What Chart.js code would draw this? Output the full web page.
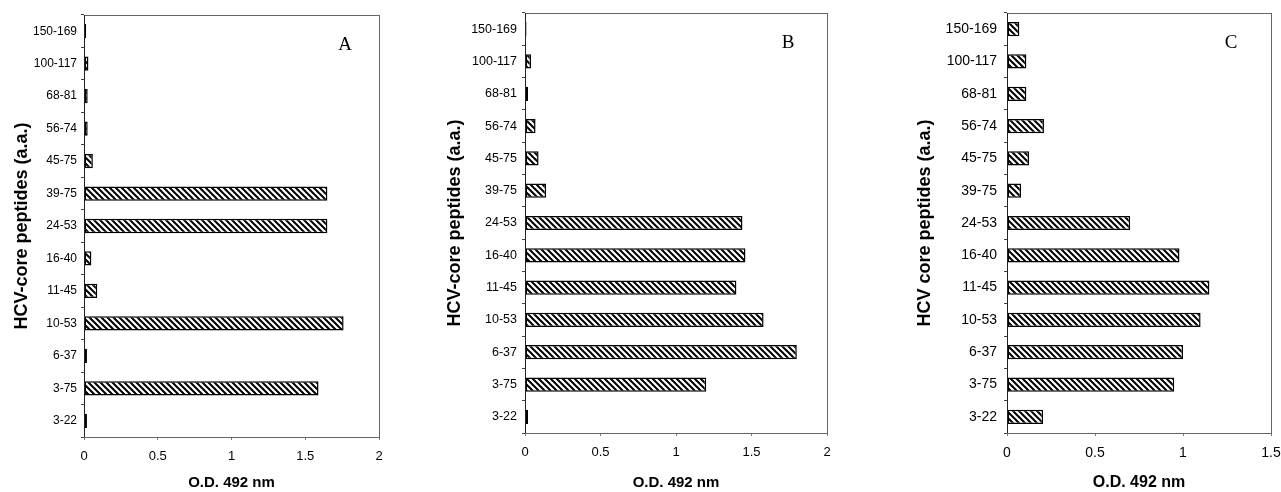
<!DOCTYPE html>
<html>
<head>
<meta charset="utf-8">
<title>HCV-core peptides O.D. 492 nm</title>
<script src="https://cdn.jsdelivr.net/npm/chart.js@4/dist/chart.umd.min.js"></script>
<style>
  html, body { margin: 0; padding: 0; background: #fff; }
  body { width: 1281px; height: 492px; position: relative; overflow: hidden; }
  .panel { position: absolute; top: 0; height: 492px; }
</style>
</head>
<body>
<div class="panel" id="wrap-a" style="left:0;width:390px"><canvas id="chart-a"></canvas></div>
<div class="panel" id="wrap-b" style="left:430px;width:410px"><canvas id="chart-b"></canvas></div>
<div class="panel" id="wrap-c" style="left:860px;width:421px"><canvas id="chart-c"></canvas></div>
<script>
// Peptides, top to bottom as in the figure
const peptides = ['150-169', '100-117', '68-81', '56-74', '45-75', '39-75', '24-53',
  '16-40', '11-45', '10-53', '6-37', '3-75', '3-22'];

const odA = [0.015, 0.03, 0.025, 0.025, 0.06, 1.65, 1.65, 0.05, 0.09, 1.76, 0.02, 1.59, 0.02];
const odB = [0.01, 0.04, 0.02, 0.07, 0.09, 0.14, 1.44, 1.46, 1.40, 1.58, 1.80, 1.20, 0.02];
const odC = [0.07, 0.11, 0.11, 0.21, 0.125, 0.08, 0.70, 0.98, 1.15, 1.10, 1.00, 0.95, 0.205];

const FONT = "'Liberation Sans', Arial, sans-serif";

function hatch() {
  const s = 6;
  const c = document.createElement('canvas');
  c.width = s; c.height = s;
  const g = c.getContext('2d');
  g.fillStyle = '#fff';
  g.fillRect(0, 0, s, s);
  g.strokeStyle = '#000';
  g.lineWidth = 2;
  g.beginPath();
  g.moveTo(0, 0); g.lineTo(s, s);
  g.moveTo(-1, s - 1); g.lineTo(1, s + 1);
  g.moveTo(s - 1, -1); g.lineTo(s + 1, 1);
  g.stroke();
  return g.createPattern(c, 'repeat');
}

// frame around the plot area + panel letter
const boxPlugin = {
  id: 'box',
  afterDraw(chart, args, opts) {
    const { ctx, chartArea: a } = chart;
    ctx.save();
    ctx.strokeStyle = '#666';
    ctx.lineWidth = 1;
    ctx.strokeRect(a.left + 0.5, a.top + 0.5, a.right - a.left, a.bottom - a.top);
    ctx.strokeStyle = '#222';
    ctx.beginPath();
    ctx.moveTo(a.left + 0.5, a.top);
    ctx.lineTo(a.left + 0.5, a.bottom);
    ctx.stroke();
    ctx.fillStyle = '#000';
    ctx.font = "19px 'Liberation Serif', 'Times New Roman', serif";
    ctx.textAlign = 'center';
    ctx.textBaseline = 'middle';
    ctx.fillText(opts.letter, a.left + opts.lx, a.top + opts.ly);
    ctx.restore();
  },
};

function makePanel(id, data, cfg) {
  const ctx = document.getElementById(id).getContext('2d');
  return new Chart(ctx, {
    type: 'bar',
    data: {
      labels: peptides,
      datasets: [{
        data: data,
        backgroundColor: hatch(),
        borderColor: '#000',
        borderWidth: 1.5,
        borderSkipped: false,
        barPercentage: 0.44,
        categoryPercentage: 1,
      }],
    },
    options: {
      indexAxis: 'y',
      responsive: true,
      maintainAspectRatio: false,
      animation: false,
      layout: { padding: { top: cfg.top, right: cfg.right, left: 0, bottom: 0 } },
      plugins: {
        legend: { display: false },
        tooltip: { enabled: false },
        box: { letter: cfg.letter, lx: cfg.lx, ly: 30 },
      },
      scales: {
        x: {
          min: 0,
          max: cfg.max,
          ticks: {
            stepSize: 0.5,
            color: '#000',
            font: { family: FONT, size: cfg.xTickSize },
            padding: 9,
            callback: (v) => `${v}`,
          },
          grid: { drawOnChartArea: false, tickLength: 3, color: '#777' },
          border: { display: false },
          title: {
            display: true,
            text: 'O.D. 492 nm',
            color: '#000',
            font: { family: FONT, size: cfg.xTitleSize, weight: 'bold' },
            padding: { top: 0, bottom: 0 },
          },
          afterFit(scale) {
            scale.height = cfg.xh;
            scale.paddingLeft = 0;
            scale.paddingRight = 0;
          },
        },
        y: {
          ticks: { color: '#000', font: { family: FONT, size: cfg.tickSize }, padding: cfg.labelPad },
          grid: { drawOnChartArea: false, tickLength: 3, color: '#444' },
          border: { display: false },
          title: {
            display: true,
            text: cfg.yTitle,
            color: '#000',
            font: { family: FONT, size: 18, weight: 'bold' },
            padding: { top: cfg.titlePad, bottom: 0 },
          },
          afterFit(scale) {
            scale.width = cfg.yw;
            scale.paddingTop = 0;
            scale.paddingBottom = 0;
          },
        },
      },
    },
    plugins: [boxPlugin],
  });
}

makePanel('chart-a', odA, {
  top: 15, right: 11, xh: 55, yw: 84, max: 2, tickSize: 12, xTickSize: 13, xTitleSize: 15, labelPad: 4,
  titlePad: 11.2, yTitle: 'HCV-core peptides (a.a.)', letter: 'A', lx: 261,
});
makePanel('chart-b', odB, {
  top: 13, right: 13, xh: 59, yw: 95, max: 2, tickSize: 12.5, xTickSize: 13, xTitleSize: 15, labelPad: 5,
  titlePad: 14.7, yTitle: 'HCV-core peptides (a.a.)', letter: 'B', lx: 263,
});
makePanel('chart-c', odC, {
  top: 13, right: 10, xh: 59, yw: 147, max: 1.5, tickSize: 14, xTickSize: 14, xTitleSize: 16, labelPad: 7,
  titlePad: 54.2, yTitle: 'HCV core peptides (a.a.)', letter: 'C', lx: 224,
});
</script>
</body>
</html>
